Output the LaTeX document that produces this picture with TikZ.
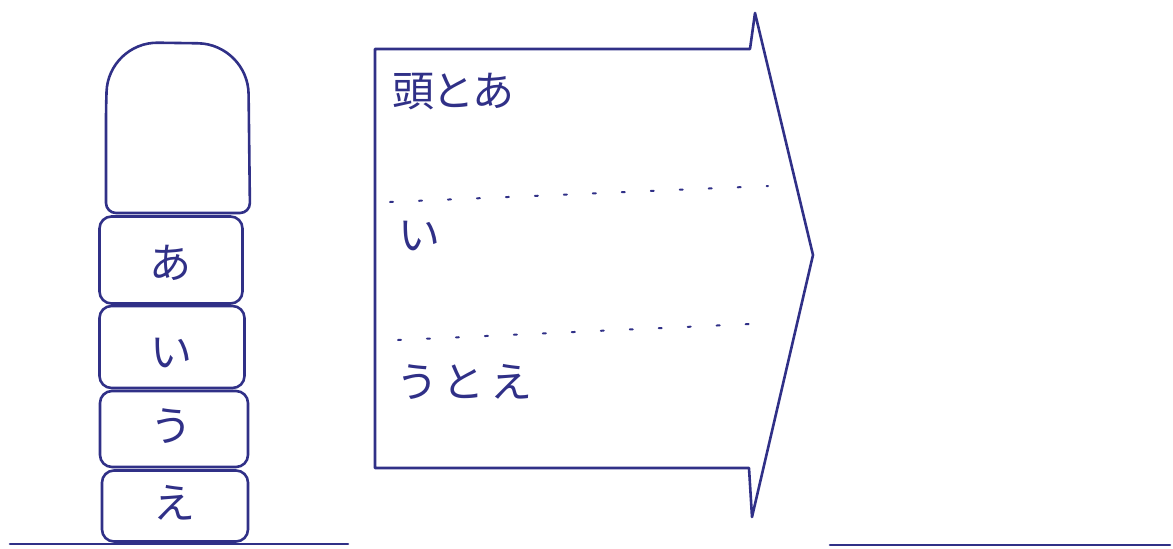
\documentclass[tikz,border=0pt]{standalone}
\usepackage{fontspec}
\newfontfamily\jpfont{Noto Sans CJK JP}
\definecolor{ink}{RGB}{48,48,135}
\begin{document}
\begin{tikzpicture}[x=1pt,y=-1pt,
  pen/.style={draw=ink,line width=2.6pt,line join=round,line cap=round},
  blk/.style={pen,rounded corners=12pt,minimum height=#1,inner sep=0pt},
  lbl/.style={text=ink,font=\jpfont\fontsize{42}{42}\selectfont,inner sep=0pt},
  sep/.style={draw=ink,line width=2pt,dash pattern=on 3pt off 26pt,line cap=round}]
\useasboundingbox (0,0) rectangle (1173,549);
% head block
\draw[pen] (106,213) [rounded corners=10pt] -- (106,110) [rounded corners=50pt] -- (108,42) -- (248,44) [rounded corners=10pt] -- (250,213) -- cycle;
\node[minimum width=142pt,minimum height=170pt] (head) at (178,128) {};
% stacked blocks
\node[blk=87pt,minimum width=143pt] (a) at (171,260) {};
\node[blk=82pt,minimum width=145pt] (i) at (172,347) {};
\node[blk=76pt,minimum width=148pt] (u) at (174,429) {};
\node[blk=71pt,minimum width=146pt] (e) at (175,506) {};
\node[lbl] (ta) at (170,263) {あ};
\node[lbl] (ti) at (171,353) {い};
\node[lbl] (tu) at (171,426) {う};
\node[lbl] (te) at (174,503) {え};
% baselines
\coordinate (b1) at (10,544);
\coordinate (b2) at (348,544);
\coordinate (b3) at (830,545);
\coordinate (b4) at (1170,545);
\draw[pen] (b1) -- (b2);
\draw[pen] (b3) -- (b4);
% arrow
\coordinate (p1) at (375,49);
\coordinate (p2) at (750,49);
\coordinate (p3) at (755,13);
\coordinate (tip) at (813,255);
\coordinate (p5) at (752,517);
\coordinate (p6) at (749,468);
\coordinate (p7) at (375,468);
\draw[pen] (p1) -- (p2) -- (p3) -- (tip) -- (p5) -- (p6) -- (p7) -- cycle;
% separators
\coordinate (s1) at (390,202);
\coordinate (s2) at (768,186);
\coordinate (s3) at (398,340);
\coordinate (s4) at (772,323);
\draw[sep] (s1) -- (s2);
\draw[sep] (s3) -- (s4);
% arrow texts
\node[lbl,anchor=west] (t1) at (392,92) {頭\kern-2pt と\kern-2pt あ};
\node[lbl,anchor=west] (t2) at (398,236) {い};
\node[lbl,anchor=west] (t3) at (396,382) {う\kern4pt と\kern6pt え};
\end{tikzpicture}
\end{document}
